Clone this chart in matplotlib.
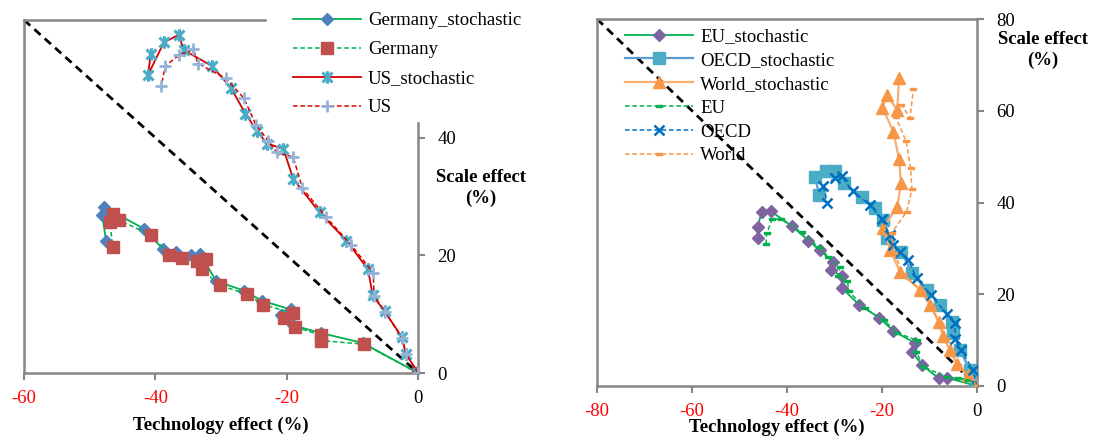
import matplotlib
matplotlib.use("Agg")
import matplotlib.pyplot as plt
from matplotlib.path import Path

plt.rcParams['font.family'] = ['Liberation Serif', 'DejaVu Serif']

# ---------------- data: (technology effect %, scale effect %) ----------------
germany_sto_tech = [0, -8.4, -14.8, -19.0, -20.9, -19.4, -23.8, -26.5, -30.7, -33.2,
                    -34.6, -36.9, -38.8, -41.7, -47.8, -48.1, -47.5]
germany_sto_scale = [0, 5.1, 6.8, 8.1, 9.8, 10.8, 12.3, 14.0, 15.6, 20.2,
                     20.0, 20.6, 21.0, 24.5, 28.2, 26.9, 22.4]

germany_tech = [0, -8.2, -14.7, -14.7, -18.7, -20.4, -19.0, -23.6, -26.0, -30.2,
                -32.9, -32.3, -33.7, -36.0, -37.9, -40.7, -45.6, -46.5, -46.9, -46.5]
germany_scale = [0, 4.9, 5.5, 6.4, 7.8, 9.4, 10.2, 11.6, 13.4, 14.9,
                 17.6, 19.3, 19.0, 19.6, 20.1, 23.5, 26.0, 27.1, 25.6, 21.5]

us_sto_tech = [0, -1.8, -2.5, -5.1, -6.9, -7.6, -10.9, -15.0, -19.0, -20.5,
               -23.0, -24.5, -26.3, -28.5, -31.4, -35.7, -36.4, -38.7, -41.1, -40.7]
us_sto_scale = [0, 3.2, 6.2, 10.5, 13.2, 17.6, 22.5, 27.3, 33.0, 38.1,
                39.0, 41.1, 44.1, 48.5, 52.2, 54.9, 57.5, 56.2, 50.7, 54.3]

us_tech = [0, -1.8, -2.5, -5.0, -6.7, -6.8, -10.2, -14.0, -17.6, -19.0,
           -21.5, -22.8, -24.7, -26.5, -29.3, -33.5, -34.2, -36.4, -38.5, -39.1]
us_scale = [0, 3.2, 6.0, 10.4, 13.1, 17.0, 21.8, 26.5, 31.4, 36.7,
            37.5, 39.5, 42.2, 46.7, 50.1, 52.6, 55.0, 54.0, 52.2, 48.7]

eu_sto_tech = [0, -6.4, -8.1, -11.6, -13.7, -13.1, -17.6, -20.6, -24.8, -28.5,
               -28.5, -30.8, -30.3, -33.1, -35.5, -39.0, -43.4, -45.3, -46.2, -46.2]
eu_sto_scale = [0, 1.8, 1.7, 4.6, 7.5, 9.4, 12.0, 14.9, 17.7, 21.4,
                24.0, 25.3, 27.1, 29.6, 31.7, 34.9, 38.1, 38.0, 34.7, 32.3]

oecd_sto_tech = [0, -1.5, -3.6, -5.0, -5.3, -7.8, -10.6, -13.7, -15.9, -19.0,
                 -19.7, -21.5, -24.3, -28.1, -29.9, -31.8, -34.1, -33.2]
oecd_sto_scale = [0, 3.5, 7.8, 11.5, 14.0, 17.7, 20.9, 24.6, 29.3, 32.2,
                  36.2, 38.7, 41.3, 44.3, 46.9, 46.9, 45.5, 41.6]

world_sto_tech = [0, -2.0, -4.3, -5.7, -7.1, -8.1, -9.9, -12.0, -16.2, -18.3,
                  -19.7, -16.8, -16.0, -16.4, -17.6, -19.9, -19.0, -16.8, -16.4]
world_sto_scale = [0, 2.4, 4.9, 7.8, 10.8, 14.0, 17.7, 20.9, 24.9, 29.6,
                   34.4, 39.1, 44.2, 49.4, 55.4, 60.7, 63.4, 60.2, 67.1]

eu_tech = [0, -1.8, -3.9, -6.3, -11.3, -12.8, -12.7, -16.9, -19.6, -23.6,
           -26.9, -27.3, -29.3, -28.8, -31.3, -33.3, -36.9, -41.3, -43.1, -44.3, -44.4]
eu_scale = [0, 1.3, 1.7, 1.9, 4.2, 7.5, 10.0, 11.6, 14.4, 16.9,
            20.6, 22.9, 24.0, 26.0, 28.2, 30.2, 33.5, 36.4, 36.3, 33.3, 30.9]

oecd_tech = [0, -0.8, -3.4, -4.6, -4.6, -6.4, -9.7, -12.7, -14.5, -16.2,
             -17.6, -18.3, -20.1, -22.5, -26.2, -28.5, -29.9, -32.4, -31.5]
oecd_scale = [0, 3.5, 7.8, 10.2, 13.7, 15.8, 19.8, 23.5, 27.5, 29.3,
              30.7, 32.9, 36.5, 39.5, 42.4, 45.8, 45.3, 43.6, 40.0]

world_tech = [0, -1.7, -3.9, -5.3, -6.8, -7.8, -9.5, -11.5, -15.5, -17.5,
              -18.0, -14.8, -13.7, -14.0, -14.9, -17.1, -15.9, -14.1, -13.4]
world_scale = [0, 2.0, 4.5, 7.4, 10.3, 13.5, 17.3, 20.5, 24.5, 29.0,
               33.3, 38.0, 42.9, 47.6, 53.3, 58.6, 61.3, 58.4, 64.7]

left_xticks = [-60, -40, -20, 0]
left_yticks = [0, 20, 40]
right_xticks = [-80, -60, -40, -20, 0]
right_yticks = [0, 20, 40, 60, 80]

# ---------------- marker shapes ----------------
star_marker = Path([(-1, -1), (1, 1), (-1, 1), (1, -1), (0, -1.25), (0, 1.25)],
                   [Path.MOVETO, Path.LINETO, Path.MOVETO, Path.LINETO,
                    Path.MOVETO, Path.LINETO])
dash_marker = [(-1, -0.4), (1, -0.4), (1, 0.4), (-1, 0.4), (-1, -0.4)]

GRAY = '#868686'
DASH = (0, (3, 1.8))
FS = 13.5

fig = plt.figure(figsize=(10.95, 4.43), dpi=100)
W, H = 1095, 443


def frame(px_left, px_top, px_right, px_bottom):
    return fig.add_axes([px_left / W, 1 - px_bottom / H,
                         (px_right - px_left) / W, (px_bottom - px_top) / H])


def style_axis(ax, xticks, yticks):
    for s in ax.spines.values():
        s.set_color(GRAY)
        s.set_linewidth(1.8)
    ax.set_xticks(xticks)
    ax.set_yticks(yticks)
    ax.yaxis.tick_right()
    ax.tick_params(axis='both', direction='out', length=5, width=1.5,
                   color=GRAY, labelsize=FS)
    ax.tick_params(axis='x', pad=7)
    ax.tick_params(axis='y', pad=9)
    ax.set_xticklabels([str(t) for t in xticks])
    for lab, t in zip(ax.get_xticklabels(), xticks):
        lab.set_color('#FF0000' if t < 0 else 'black')
    ax.set_yticklabels([str(t) for t in yticks])


# ================= left panel: Germany / US =================
axl = frame(24, 20, 418, 373)
axl.set_xlim(-60, 0)
axl.set_ylim(0, 60)
style_axis(axl, left_xticks, left_yticks)
axl.spines['top'].set_bounds(-60, -23.3)
axl.spines['right'].set_bounds(0, 42.5)

axl.plot([-60, 0], [60, 0], color='black', lw=2, linestyle=(0, (3, 2)), zorder=2)

axl.plot(germany_sto_tech, germany_sto_scale, color='#00B050', lw=1.3,
         marker='D', ms=6.5, mfc='#4F81BD', mec='#4F81BD', label='Germany_stochastic', zorder=3)
axl.plot(germany_tech, germany_scale, color='#00B050', lw=1.1, linestyle=DASH,
         marker='s', ms=8, mfc='#C0504D', mec='#C0504D', label='Germany', zorder=3)
axl.plot(us_sto_tech, us_sto_scale, color='#D00000', lw=1.3,
         marker=star_marker, ms=9, mfc='none', mec='#4BACC6', mew=2.2,
         label='US_stochastic', zorder=3)
axl.plot(us_tech, us_scale, color='#E00000', lw=1.1, linestyle=DASH,
         marker='+', ms=9, mec='#95B3D7', mew=2, label='US', zorder=3)

axl.legend(loc='upper left', bbox_to_anchor=(293 / W, 1 - 12 / H),
           bbox_transform=fig.transFigure, frameon=False, fontsize=FS,
           handlelength=3.6, handletextpad=0.4, labelspacing=0.64,
           borderpad=0, borderaxespad=0)

fig.text(221 / W, 1 - 425 / H, 'Technology effect (%)', ha='center', va='center',
         fontsize=FS, fontweight='bold')
fig.text(481 / W, 1 - 188 / H, 'Scale effect\n(%)', ha='center', va='center',
         fontsize=FS, fontweight='bold', linespacing=1.3)

# ================= right panel: EU / OECD / World =================
axr = frame(597, 19, 977, 386)
axr.set_xlim(-80, 0)
axr.set_ylim(0, 80)
style_axis(axr, right_xticks, right_yticks)

axr.plot([-80, 0], [80, 0], color='black', lw=2, linestyle=(0, (3, 2)), zorder=2)

axr.plot(eu_sto_tech, eu_sto_scale, color='#00B050', lw=1.3,
         marker='D', ms=6.5, mfc='#8064A2', mec='#8064A2', label='EU_stochastic', zorder=3)
axr.plot(oecd_sto_tech, oecd_sto_scale, color='#5B9BD5', lw=1.6,
         marker='s', ms=8, mfc='#4BACC6', mec='#4BACC6', label='OECD_stochastic', zorder=3)
axr.plot(world_sto_tech, world_sto_scale, color='#F9AE70', lw=1.6,
         marker='^', ms=8, mfc='#F79646', mec='#F79646', label='World_stochastic', zorder=3)
axr.plot(eu_tech, eu_scale, color='#00B050', lw=1.1, linestyle=DASH,
         marker=dash_marker, ms=5, mfc='#00B050', mec='#00B050', label='EU', zorder=3)
axr.plot(oecd_tech, oecd_scale, color='#0070C0', lw=1.1, linestyle=DASH,
         marker='x', ms=7, mec='#0070C0', mew=1.8, label='OECD', zorder=3)
axr.plot(world_tech, world_scale, color='#F79646', lw=1.1, linestyle=DASH,
         marker=dash_marker, ms=5, mfc='#F79646', mec='#F79646', label='World', zorder=3)

axr.legend(loc='upper left', bbox_to_anchor=(625 / W, 1 - 28 / H),
           bbox_transform=fig.transFigure, frameon=False, fontsize=FS,
           handlelength=3.6, handletextpad=0.4, labelspacing=0.36,
           borderpad=0, borderaxespad=0)

fig.text(777 / W, 1 - 427 / H, 'Technology effect (%)', ha='center', va='center',
         fontsize=FS, fontweight='bold')
fig.text(1043 / W, 1 - 50 / H, 'Scale effect\n(%)', ha='center', va='center',
         fontsize=FS, fontweight='bold', linespacing=1.3)

fig.savefig('out.png', dpi=100)
